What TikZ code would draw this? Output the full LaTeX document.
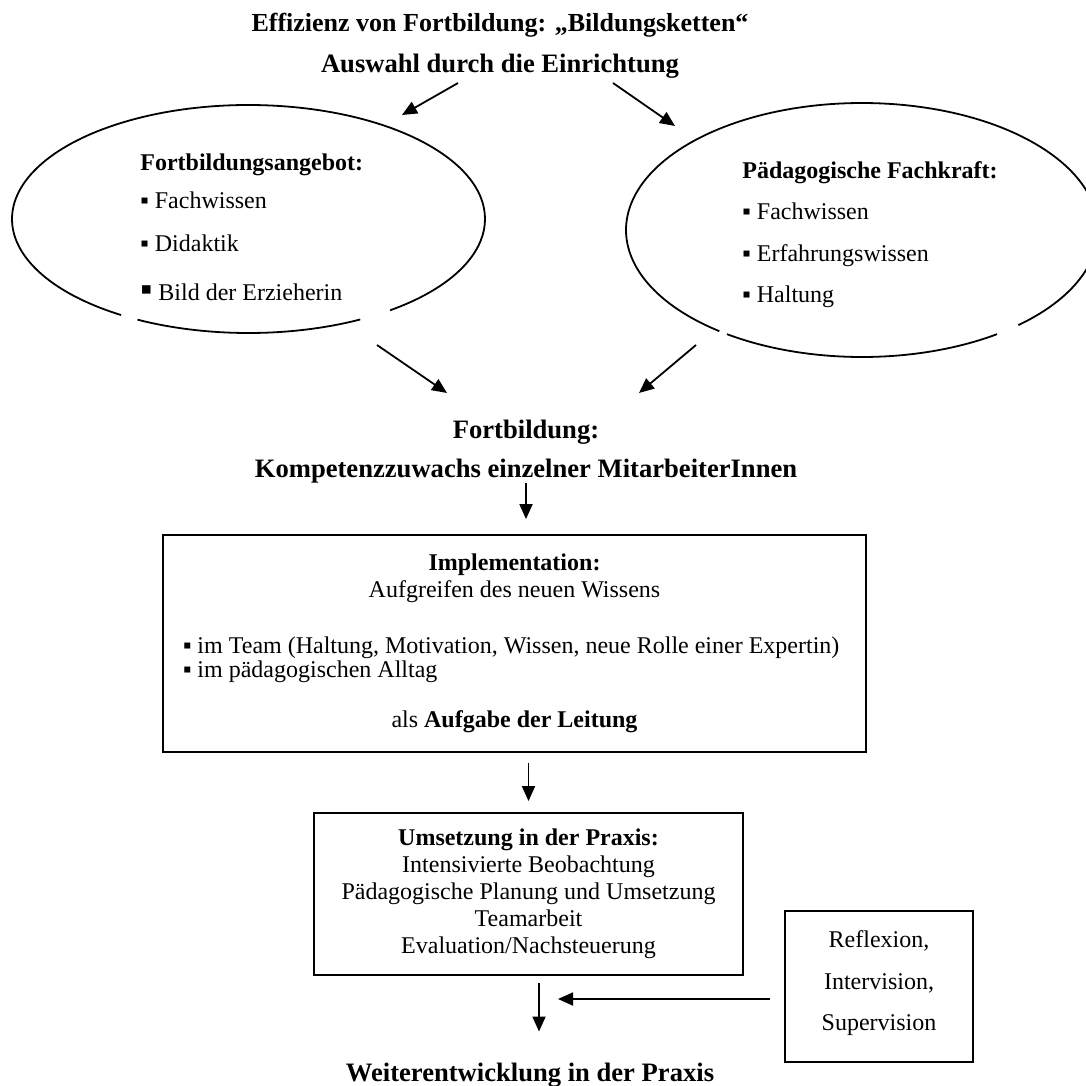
\documentclass[tikz,border=0pt]{standalone}
\usepackage{fontspec}
\setmainfont{Liberation Serif}
\usetikzlibrary{arrows.meta,shapes.geometric}

\newcommand{\bul}{▪}
\newcommand{\bigbul}{{\fontsize{17}{17}\selectfont ▪}}

\begin{document}
\begin{tikzpicture}[x=0.5pt, y=-0.5pt, >={Triangle[length=7.5pt,width=6.5pt]},
	txt/.style={inner sep=0pt, font=\fontsize{12}{13.5}\selectfont},
	head/.style={inner sep=0pt, font=\fontsize{13.3}{15}\selectfont\bfseries},
	oval/.style={ellipse, draw=none, inner sep=0pt},
	kasten/.style={draw, line width=0.9pt, rectangle, inner sep=0pt, align=center,
		font=\fontsize{12}{13.5}\selectfont},
	pfeil/.style={->, line width=0.9pt},
	rand/.style={line width=0.9pt}]

	\useasboundingbox (0,0) rectangle (1086,1086);

	% Titel
	\node [head, font=\fontsize{13}{15}\selectfont\bfseries, anchor=base] (titel) at (500,32)
	{Effizienz von Fortbildung: „Bildungsketten“};
	\node [head] (auswahl) [below of=titel, node distance=20pt]
	{Auswahl durch die Einrichtung};

	% Ellipsen {angebot, fachkraft}
	\node [oval, minimum width=236.5pt, minimum height=114pt] (angebot) at (248.5,219) {};
	\node [oval, minimum width=236pt, minimum height=127pt] (fachkraft) at (862,230) {};

	\draw [rand] ([shift={(-53.2:118.25pt and 57pt)}]angebot.center)
		arc [start angle=-53.2, end angle=237.4, x radius=118.25pt, y radius=57pt];
	\draw [rand] ([shift={(242:118.25pt and 57pt)}]angebot.center)
		arc [start angle=242, end angle=298.2, x radius=118.25pt, y radius=57pt];
	\draw [rand] ([shift={(-48.5:118pt and 63.5pt)}]fachkraft.center)
		arc [start angle=-48.5, end angle=232.8, x radius=118pt, y radius=63.5pt];
	\draw [rand] ([shift={(235.1:118pt and 63.5pt)}]fachkraft.center)
		arc [start angle=235.1, end angle=304.9, x radius=118pt, y radius=63.5pt];

	% Listen, Grundlinie der letzten Zeile
	\node [txt, anchor=base west, align=left] (angebotliste) at (140,300)
	{\textbf{Fortbildungsangebot:}\\[5.5pt] \bul\ Fachwissen\\[8pt] \bul\ Didaktik\\[11pt]
	 \bigbul\ Bild der Erzieherin};
	\node [txt, anchor=base west, align=left] (fachkraftliste) at (742,302)
	{\textbf{Pädagogische Fachkraft:}\\[7pt] \bul\ Fachwissen\\[7.5pt] \bul\ Erfahrungswissen\\[7pt]
	 \bul\ Haltung};

	% Fortbildung
	\node [head, anchor=base] (fortbildung) at (526,438) {Fortbildung:};
	\node [head] (zuwachs) [below of=fortbildung, node distance=19.5pt]
	{Kompetenzzuwachs einzelner MitarbeiterInnen};

	% Kaesten
	\node [kasten, minimum width=351.5pt, minimum height=108.5pt] (implementation) at (514.5,643.5)
	{\textbf{Implementation:}\\ Aufgreifen des neuen Wissens\\[14.5pt]
	 \makebox[331.5pt][l]{\bul\ im Team (Haltung, Motivation, Wissen, neue Rolle einer Expertin)}\\[-1.5pt]
	 \makebox[331.5pt][l]{\bul\ im pädagogischen Alltag}\\[11.5pt]
	 als \textbf{Aufgabe der Leitung}};
	\node [kasten, minimum width=214.5pt, minimum height=81pt] (umsetzung) at (528.5,894)
	{\textbf{Umsetzung in der Praxis:}\\ Intensivierte Beobachtung\\ Pädagogische Planung und Umsetzung\\
	 Teamarbeit\\ Evaluation/Nachsteuerung};
	\node [kasten, minimum width=94pt, minimum height=75.5pt] (reflexion) at (879,986.5)
	{Reflexion,\\[7.25pt] Intervision,\\[7.25pt] Supervision\\[-8pt] \mbox{}};

	\node [head, anchor=base] (weiter) at (530,1081) {Weiterentwicklung in der Praxis};

	% freie Enden
	\coordinate (auswahlL) at (458,83);
	\coordinate (angebotO) at (402,115);
	\coordinate (auswahlR) at (613,83);
	\coordinate (fachkraftO) at (675,126);
	\coordinate (angebotU) at (377,345);
	\coordinate (fortbildungL) at (447,393);
	\coordinate (fachkraftU) at (696,345);
	\coordinate (fortbildungR) at (639,393);
	\coordinate (treffpunkt) at (539,999);

	% Pfeile
	\path [pfeil]
	(auswahlL) edge (angebotO)
	(auswahlR) edge (fachkraftO)
	(angebotU) edge (fortbildungL)
	(fachkraftU) edge (fortbildungR)
	(zuwachs.south) edge [shorten >=7.5pt] (zuwachs.south |- implementation.north)
	(implementation.south -| umsetzung.north) edge [shorten <=5pt, shorten >=5.5pt] (umsetzung.north)
	([xshift=5.25pt]umsetzung.south) edge [shorten <=3.5pt, shorten >=15.3pt] ([xshift=4.5pt]weiter.north)
	(reflexion.west |- treffpunkt) edge [shorten <=7pt, shorten >=9.5pt] (treffpunkt);

\end{tikzpicture}
\end{document}
